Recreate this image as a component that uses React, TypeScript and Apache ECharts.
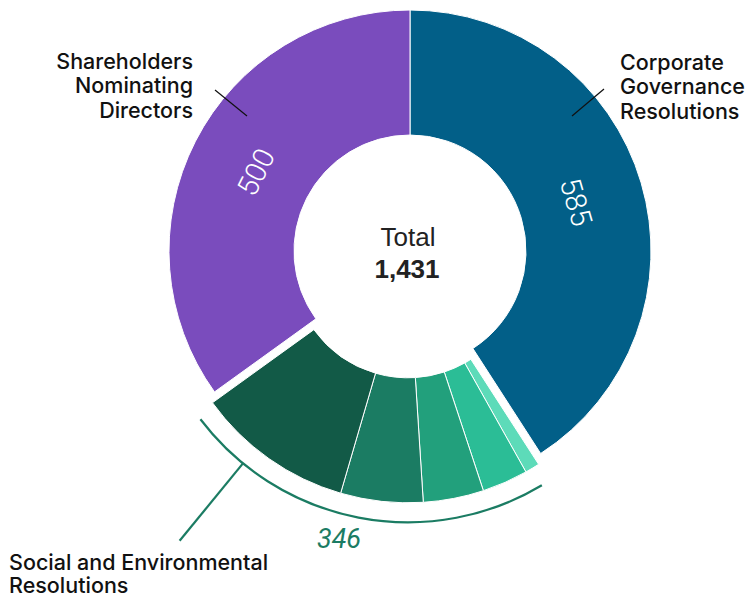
import React, { useEffect, useRef } from "react";
import * as echarts from "echarts";

const categories = [
  "Corporate Governance Resolutions",
  "Social and Environmental Resolutions",
  "Shareholders Nominating Directors",
];
const mainValues = [585, 346, 500];
const mainColors = ["#025f88", "#1b7c63", "#7a4cbd"];
const socialSubValues = [14, 44, 58, 79, 151];
const socialSubColors = ["#5ddbb9", "#2bbd96", "#22a07c", "#1b7c63", "#125a47"];
const totalLabel = "Total";

const FONT = "'Liberation Sans', Arial, Helvetica, sans-serif";
const LABEL_FONT = "Inter, 'DejaVu Sans', sans-serif";

export default function App() {
  const ref = useRef<HTMLDivElement>(null);

  useEffect(() => {
    if (!ref.current) return;
    const chart = echarts.init(ref.current, null, { renderer: "svg" });

    const total = mainValues.reduce((a, b) => a + b, 0);
    const cx = 410;
    const cy = 251;
    const r0 = 116;
    const r1 = 241;
    const deg = Math.PI / 180;

    const startOf = (i: number) =>
      (mainValues.slice(0, i).reduce((a, b) => a + b, 0) / total) * 360;
    const midOf = (i: number) => startOf(i) + (mainValues[i] / total) * 180;

    const gStart = startOf(1);
    const gEnd = startOf(2);
    const gMid = (gStart + gEnd) / 2;
    const explode = 11;
    const gcx = cx + explode * Math.sin(gMid * deg);
    const gcy = cy - explode * Math.cos(gMid * deg);

    const polar = (ox: number, oy: number, r: number, a: number) => [
      ox + r * Math.sin(a * deg),
      oy - r * Math.cos(a * deg),
    ];

    const mainData = mainValues.map((v, i) => {
      if (i === 1) {
        return {
          value: v,
          name: categories[i],
          itemStyle: { color: "rgba(0,0,0,0)", borderWidth: 0 },
          label: { show: false },
        };
      }
      return {
        value: v,
        name: categories[i],
        itemStyle: { color: mainColors[i], borderColor: "#ffffff", borderWidth: 1 },
        label: { show: false },
      };
    });

    const labelData = mainValues.map((v, i) => ({
      value: v,
      name: categories[i],
      itemStyle: { color: "rgba(0,0,0,0)", borderWidth: 0 },
      label:
        i === 1
          ? { show: false }
          : {
              show: true,
              position: "inside",
              rotate: -midOf(i),
              formatter: String(v),
              color: "#ffffff",
              fontSize: 29,
              fontFamily: "Roboto, " + FONT,
              fontWeight: 300,
            },
    }));

    const groupData: any[] = [
      { value: mainValues[0], itemStyle: { color: "rgba(0,0,0,0)", borderWidth: 0 } },
      ...socialSubValues.map((v, i) => ({
        value: v,
        itemStyle: { color: socialSubColors[i], borderColor: "#ffffff", borderWidth: 1 },
      })),
      { value: mainValues[2], itemStyle: { color: "rgba(0,0,0,0)", borderWidth: 0 } },
    ];

    const arcR = 260.5;
    const arcStart = gStart + 1.9;
    const arcEnd = gEnd - 1.4;
    const leaderAngle = 219.3;
    const [la1x, la1y] = polar(gcx, gcy, arcR, leaderAngle);
    const [la2x, la2y] = polar(gcx, gcy, arcR + 100, leaderAngle);

    const labelStyle = (extra: any) => ({
      fontFamily: LABEL_FONT,
      fontSize: 21.5,
      fontWeight: 500,
      fill: "#111111",
      lineHeight: 24.5,
      ...extra,
    });

    chart.setOption({
      animation: false,
      backgroundColor: "#ffffff",
      series: [
        {
          type: "pie",
          center: [cx, cy],
          radius: [r0, r1],
          startAngle: 90,
          clockwise: true,
          silent: true,
          avoidLabelOverlap: false,
          labelLine: { show: false },
          emphasis: { disabled: true },
          data: mainData,
          z: 2,
        },
        {
          type: "pie",
          center: [gcx, gcy],
          radius: [r0, r1],
          startAngle: 90,
          clockwise: true,
          silent: true,
          label: { show: false },
          labelLine: { show: false },
          emphasis: { disabled: true },
          data: groupData,
          z: 3,
        },
        {
          type: "pie",
          center: [cx, cy],
          radius: [r0, 224],
          startAngle: 90,
          clockwise: true,
          silent: true,
          avoidLabelOverlap: false,
          labelLine: { show: false },
          emphasis: { disabled: true },
          data: labelData,
          z: 4,
        },
      ],
      graphic: [
        {
          type: "text",
          x: 408,
          y: 237,
          z: 100,
          style: {
            text: totalLabel,
            fontFamily: FONT,
            fontSize: 26,
            fill: "#222222",
            align: "center",
            verticalAlign: "middle",
          },
        },
        {
          type: "text",
          x: 407,
          y: 269,
          z: 100,
          style: {
            text: total.toLocaleString("en-US"),
            fontFamily: FONT,
            fontSize: 26,
            fontWeight: "bold",
            fill: "#222222",
            align: "center",
            verticalAlign: "middle",
          },
        },
        {
          type: "line",
          z: 100,
          shape: { x1: 604, y1: 89, x2: 572, y2: 116 },
          style: { stroke: "#111111", lineWidth: 1.2 },
        },
        {
          type: "text",
          x: 620,
          y: 49.5,
          z: 100,
          style: labelStyle({
            text: "Corporate\nGovernance\nResolutions",
            align: "left",
            verticalAlign: "top",
          }),
        },
        {
          type: "line",
          z: 100,
          shape: { x1: 215, y1: 90, x2: 247, y2: 116 },
          style: { stroke: "#111111", lineWidth: 1.2 },
        },
        {
          type: "text",
          x: 193,
          y: 48.5,
          z: 100,
          style: labelStyle({
            text: "Shareholders\nNominating\nDirectors",
            align: "right",
            verticalAlign: "top",
          }),
        },
        {
          type: "arc",
          z: 100,
          shape: {
            cx: gcx,
            cy: gcy,
            r: arcR,
            startAngle: (arcStart - 90) * deg,
            endAngle: (arcEnd - 90) * deg,
            clockwise: true,
          },
          style: { stroke: mainColors[1], lineWidth: 2.2, fill: null },
        },
        {
          type: "line",
          z: 100,
          shape: { x1: la1x, y1: la1y, x2: la2x, y2: la2y },
          style: { stroke: mainColors[1], lineWidth: 2.2 },
        },
        {
          type: "text",
          x: 339,
          y: 539,
          z: 100,
          style: {
            text: String(mainValues[1]),
            fontFamily: "Roboto, " + FONT,
            fontSize: 27,
            fontWeight: 400,
            fontStyle: "italic",
            fill: mainColors[1],
            align: "center",
            verticalAlign: "middle",
          },
        },
        {
          type: "text",
          x: 9,
          y: 550,
          z: 100,
          style: labelStyle({
            text: "Social and Environmental\nResolutions",
            lineHeight: 23.5,
            align: "left",
            verticalAlign: "top",
          }),
        },
      ],
    });

    return () => chart.dispose();
  }, []);

  return (
    <div
      ref={ref}
      style={{ position: "absolute", left: 0, top: 0, width: 747, height: 598 }}
    />
  );
}
